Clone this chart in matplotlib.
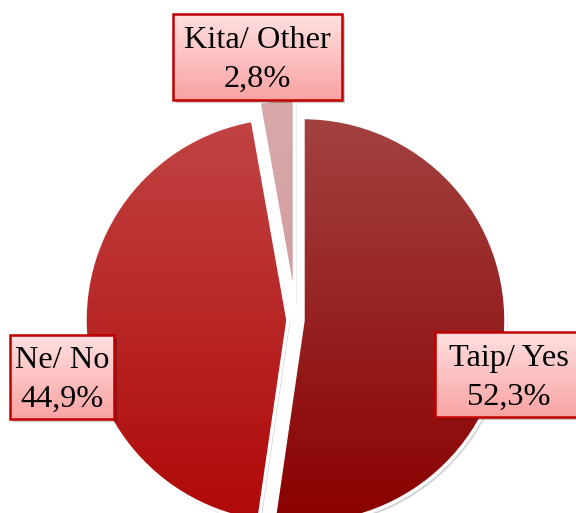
import numpy as np
import matplotlib
matplotlib.use("Agg")
import matplotlib.pyplot as plt
from matplotlib.patches import Rectangle, Wedge
from matplotlib.colors import LinearSegmentedColormap

labels = ["Taip/ Yes", "Ne/ No", "Kita/ Other"]
values = [52.3, 44.9, 2.8]

# top -> bottom gradient colours for each slice
top_colors = ["#a34242", "#c14444", "#d9a9a9"]
bottom_colors = ["#8a0000", "#b00808", "#c99090"]

W, H = 576, 513
fig = plt.figure(figsize=(W / 100, H / 100), dpi=100)
ax = fig.add_axes([0, 0, 1, 1])

cx, cy, r = 296, H - 320, 203
wedges, _ = ax.pie(values, explode=[7, 8, 18], startangle=90, counterclock=False,
                   radius=r, center=(cx, cy), frame=True,
                   wedgeprops=dict(edgecolor="white", linewidth=2.5))
ax.set_xlim(0, W)
ax.set_ylim(0, H)
ax.set_aspect("equal")
ax.axis("off")


def vgrad(c_top, c_bot, extent, clip, z):
    cmap = LinearSegmentedColormap.from_list("g", [c_bot, c_top])
    g = np.linspace(0, 1, 256).reshape(-1, 1)
    im = ax.imshow(g, cmap=cmap, extent=extent, origin="lower",
                   aspect="auto", zorder=z, interpolation="bilinear")
    im.set_clip_path(clip)
    return im


for w, ct, cb in zip(wedges, top_colors, bottom_colors):
    # soft shadow
    sx, sy = w.center
    sh = Wedge((sx + 2, sy - 3), w.r, w.theta1, w.theta2,
               facecolor="#000000", alpha=0.18, edgecolor="none", zorder=0.5)
    ax.add_patch(sh)
    w.set_facecolor("none")
    w.set_zorder(2)
    ext = (sx - w.r, sx + w.r, sy - w.r, sy + w.r)
    vgrad(ct, cb, ext, w, 1)

# label boxes (pixel coords, y down): x0, x1, y0, y1
boxes = [(435, 583, 332, 417), (10, 114, 335, 419), (173, 342, 14, 100)]
text_x = [509, 62, 257]

for lab, v, (x0, x1, y0, y1), tx in zip(labels, values, boxes, text_x):
    yb, yt = H - y1, H - y0
    shadow = Rectangle((x0 + 3, yb - 3), x1 - x0, yt - yb, facecolor="black",
                       alpha=0.2, edgecolor="none", zorder=3)
    ax.add_patch(shadow)
    rect = Rectangle((x0, yb), x1 - x0, yt - yb, facecolor="none",
                     edgecolor="#c00000", linewidth=1.8, zorder=5)
    ax.add_patch(rect)
    vgrad("#ffe0e0", "#f9a3a3", (x0, x1, yb, yt), rect, 4)
    txt = "%s\n%s%%" % (lab, ("%.1f" % v).replace(".", ","))
    ax.text(tx, (yb + yt) / 2 - 3, txt, ha="center", va="center",
            fontfamily="Liberation Serif", fontsize=23.3, linespacing=1.45,
            color="black", zorder=6)

fig.savefig("out.png", dpi=100, facecolor="white")
